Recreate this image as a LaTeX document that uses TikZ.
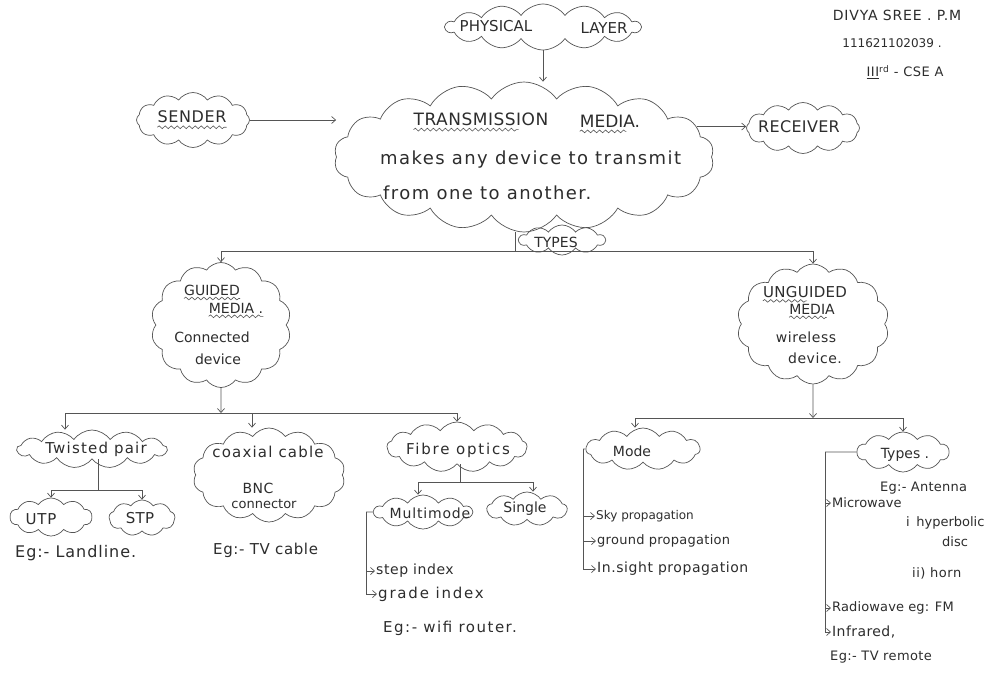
\documentclass[tikz,border=0pt]{standalone}
\usepackage{fontspec}
\setmainfont{DejaVu Sans}
\usetikzlibrary{shapes.symbols,arrows.meta,decorations.pathmorphing,calc}
\definecolor{ink}{RGB}{85,85,85}
\definecolor{pen}{RGB}{45,45,45}

\begin{document}
\begin{tikzpicture}[x=1pt,y=-1pt,
  puff/.style={cloud, cloud puffs=#1, cloud puff arc=110, cloud ignores aspect,
               draw=ink, line width=0.7pt, inner sep=0pt},
  puff/.default=13,
  lbl/.style={text=pen, inner sep=0pt, font=\fontsize{#1}{#1}\selectfont},
  lbl/.default=14,
  lbls/.style n args={2}{text=pen, inner sep=0pt,
               font=\fontsize{#1}{#1}\selectfont\addfontfeatures{LetterSpace=#2}},
  link/.style={draw=ink, line width=0.7pt},
  arr/.style={link, -{Straight Barb[length=4pt,width=7pt]}},
  wavy/.style={draw=ink, line width=0.6pt, decorate,
               decoration={snake, amplitude=1.4pt, segment length=6pt}},
]
\fill[white] (0,0) rectangle (987,686);
\useasboundingbox (0,0) rectangle (987,686);

% ---------- top row ----------
\node[puff=14, minimum width=195pt, minimum height=46pt] (phys) at (543,27) {};
\node[lbl=15] (physt1) at (496,26) {PHYSICAL};
\node[lbl=15] (physt2) at (604,28) {LAYER};

\node[puff=12, minimum width=113pt, minimum height=55pt] (send) at (193,120) {};
\node[lbls={16}{4}] (sendt) at (192,117) {SENDER};
\draw[wavy] ([yshift=-4pt]sendt.south west) -- ([yshift=-4pt]sendt.south east);

\node[puff=18, minimum width=380pt, minimum height=150pt] (tm) at (524,157) {};
\node[lbls={17}{3}] (tmt1) at (481,119) {TRANSMISSION};
\node[lbl=17] (tmt2) at (610,121) {MEDIA.};
\draw[wavy] ([yshift=-4pt]tmt1.south west) -- ([yshift=-4pt,xshift=-30pt]tmt1.south east);
\draw[wavy] ([yshift=-4pt]tmt2.south west) -- ([yshift=-4pt,xshift=-14pt]tmt2.south east);
\node[lbls={18}{8}, anchor=west] (tmt3) at (380,160) {makes any device to transmit};
\node[lbls={18}{8}, anchor=west] (tmt4) at (383,193) {from one to another.};

\node[puff=12, minimum width=113pt, minimum height=51pt] (recv) at (803,128) {};
\node[lbls={16}{2}] (recvt) at (799,127) {RECEIVER};

\node[puff=10, minimum width=86pt, minimum height=30pt] (types) at (562,240) {};
\node[lbl=14] (typest) at (556,242) {TYPES};

% author block
\node[lbls={14}{6}] (hd1) at (897,15) {DIVYA SREE . P.M};
\node[lbl=12] (hd2) at (892,43) {111621102039 .};
\node[lbls={13}{4}] (hd3) at (905,72) {\underline{III}\textsuperscript{rd} - CSE A};

% ---------- second level ----------
\node[puff=14, minimum width=140pt, minimum height=125pt] (guided) at (221,325) {};
\node[lbl=14] (gt1) at (212,290) {GUIDED};
\node[lbl=14] (gt2) at (236,308) {MEDIA .};
\draw[wavy] ([yshift=-3pt]gt1.south west) -- ([yshift=-3pt]gt1.south east);
\draw[wavy] ([yshift=-3pt]gt2.south west) -- ([yshift=-3pt]gt2.south east);
\node[lbl=14] (gt3) at (212,337) {Connected};
\node[lbl=14] (gt4) at (218,359) {device};

\node[puff=14, minimum width=152pt, minimum height=120pt] (unguided) at (813,324) {};
\node[lbls={15}{2}] (ut1) at (805,292) {UNGUIDED};
\node[lbl=14] (ut2) at (812,309) {MEDIA};
\draw[wavy] ([yshift=-3pt]ut1.south west) -- ([yshift=-3pt,xshift=-40pt]ut1.south east);
\draw[wavy] ([yshift=-3pt]ut2.south west) -- ([yshift=-3pt,xshift=-8pt]ut2.south east);
\node[lbls={14}{4}] (ut3) at (806,337) {wireless};
\node[lbls={14}{4}] (ut4) at (815,358) {device.};

% ---------- guided media branch ----------
\node[puff=13, minimum width=150pt, minimum height=38pt] (tp) at (92,449) {};
\node[lbls={15}{8}] (tpt) at (96,449) {Twisted pair};

\node[puff=10, minimum width=82pt, minimum height=38pt] (utp) at (51,517) {};
\node[lbls={15}{6}] (utpt) at (41,519) {UTP};
\node[puff=9, minimum width=66pt, minimum height=36pt] (stp) at (142,518) {};
\node[lbls={15}{2}] (stpt) at (140,518) {STP};
\node[lbls={16}{6}, anchor=west] (eg1) at (15,553) {Eg:- Landline.};

\node[puff=14, minimum width=152pt, minimum height=94pt] (coax) at (269,475) {};
\node[lbls={15}{8}] (cot1) at (268,452) {coaxial cable};
\node[lbls={14}{4}] (cot2) at (258,488) {BNC};
\node[lbl=13] (cot3) at (264,504) {connector};
\node[lbls={15}{4}, anchor=west] (eg2) at (213,550) {Eg:- TV cable};

\node[puff=13, minimum width=140pt, minimum height=50pt] (fibre) at (457,447) {};
\node[lbls={15}{12}] (fit) at (458,450) {Fibre optics};

\node[puff=10, minimum width=98pt, minimum height=34pt] (multi) at (423,512) {};
\node[lbls={14}{6}] (mut) at (430,513) {Multimode};
\node[puff=9, minimum width=80pt, minimum height=34pt] (single) at (527,509) {};
\node[lbl=14] (sit) at (525,509) {Single};

\node[lbls={14}{4}, anchor=west] (step) at (376,571) {step index};
\node[lbls={15}{12}, anchor=west] (grade) at (378,594) {grade index};
\node[lbls={15}{10}, anchor=west] (eg3) at (383,628) {Eg:- wifi router.};

% ---------- unguided media branch ----------
\node[puff=11, minimum width=114pt, minimum height=42pt] (mode) at (643,449) {};
\node[lbl=14] (mot) at (632,451) {Mode};
\node[lbl=12, anchor=west] (sky) at (596,516) {Sky propagation};
\node[lbls={13}{2}, anchor=west] (ground) at (597,541) {ground propagation};
\node[lbls={14}{4}, anchor=west] (insight) at (597,569) {In.sight propagation};

\node[puff=10, minimum width=92pt, minimum height=40pt] (types2) at (903,452) {};
\node[lbl=14] (tyt) at (905,455) {Types .};
\node[lbls={13}{2}, anchor=west] (ant) at (880,488) {Eg:- Antenna};
\node[lbl=13, anchor=west] (micro) at (832,503) {Microwave};
\node[lbl=13, anchor=west] (hyp) at (906,523) {i\enspace hyperbolic};
\node[lbl=13, anchor=west] (disc) at (942,542) {disc};
\node[lbls={13}{4}, anchor=west] (horn) at (912,573) {ii) horn};
\node[lbls={13}{1}, anchor=west] (radio) at (832,608) {Radiowave eg: FM};
\node[lbls={14}{3}, anchor=west] (infra) at (832,632) {Infrared,};
\node[lbls={13}{3}, anchor=west] (remote) at (830,657) {Eg:- TV remote};

% ---------- connectors ----------
\draw[arr] (phys.south) -- (phys.south |- tm.north);
\draw[arr] (send.east) -- (send.east -| tm.west);
\draw[arr] (tm.10) -- (tm.10 -| recv.west);

\coordinate (tb) at (515,251);
\draw[link] (tb |- tm.south) -- (tb);
\draw[arr] (tb) -| (guided.north);
\draw[arr] (tb) -| (unguided.north);

\coordinate (gb) at (221,413);
\draw[arr] (guided.south) -- (gb);
\draw[arr] (gb) -| ([xshift=-27pt]tp.north);
\draw[arr] (gb) -| ([xshift=-17pt]coax.north);
\draw[arr] (gb) -| (fibre.north);

\coordinate (tpb) at (98,490);
\draw[link] (tpb |- tp.south) -- (tpb);
\draw[arr] (tpb) -| (utp.north);
\draw[arr] (tpb) -| (stp.north);

\coordinate (fb) at (460,482);
\draw[link] (fb |- fibre.south) -- (fb);
\draw[arr] (fb) -| ([xshift=-5pt]multi.north);
\draw[arr] (fb) -| ([xshift=6pt]single.north);

\coordinate (mk) at (366,512);
\draw[link] (multi.west) -- (mk);
\draw[arr] (mk) |- ([xshift=-1pt]step.west);
\draw[arr] (mk) |- ([xshift=-1pt]grade.west);

\coordinate (ub) at (813,418);
\draw[arr] (unguided.south) -- (ub);
\draw[arr] (ub) -| ([xshift=-8pt]mode.north);
\draw[arr] (ub) -| (types2.north);

\coordinate (mdk) at (583,449);
\draw[link] (mode.west) -- (mdk);
\draw[arr] (mdk) |- ([xshift=-1pt]sky.west);
\draw[arr] (mdk) |- ([xshift=-1pt]ground.west);
\draw[arr] (mdk) |- ([xshift=-1pt]insight.west);

\coordinate (tyk) at (825,452);
\draw[link] (types2.west) -- (tyk);
\draw[arr] (tyk) |- ([xshift=-1pt]micro.west);
\draw[arr] (tyk) |- ([xshift=-1pt]radio.west);
\draw[arr] (tyk) |- ([xshift=-1pt]infra.west);
\end{tikzpicture}
\end{document}
